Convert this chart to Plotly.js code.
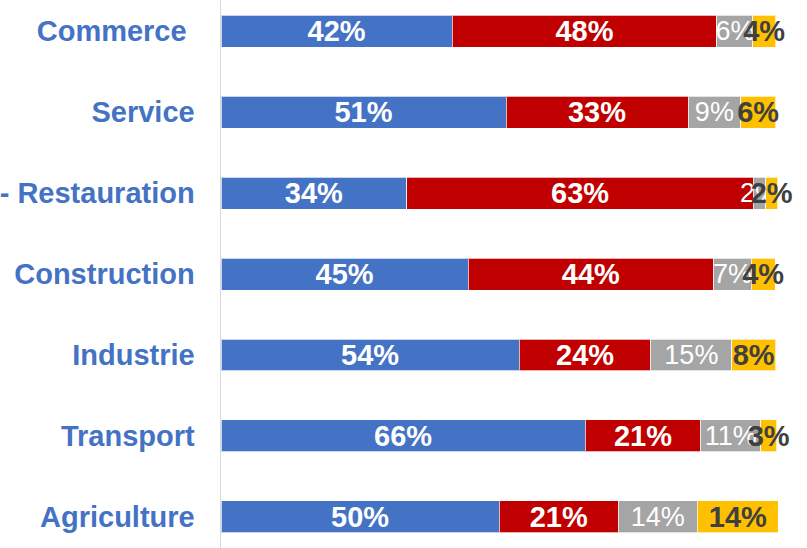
<!DOCTYPE html>
<html>
<head>
<meta charset="utf-8">
<script src="https://cdn.plot.ly/plotly-3.0.1.min.js"></script>
<style>html,body{margin:0;padding:0;background:#fff;}#chart{width:807px;height:548px;}</style>
</head>
<body>
<div id="chart"></div>
<script>
// Categories from bottom to top
const categories = ["Agriculture", "Transport", "Industrie", "Construction", "- Restauration", "Service", "Commerce\u00A0"];
// Segment values (% share)
const seriesA = [50.2, 65.7, 53.8, 44.6, 33.5, 51.4, 41.7];
const seriesB = [21.4, 20.8, 23.7, 44.2, 62.5, 32.8, 47.7];
const seriesC = [14.3, 10.8, 14.6, 6.8, 2.2, 9.5, 6.5];
const seriesD = [14.6, 2.9, 7.9, 4.3, 2.2, 6.3, 4.1];
// Printed labels
const labelsA = ["50%", "66%", "54%", "45%", "34%", "51%", "42%"];
const labelsB = ["21%", "21%", "24%", "44%", "63%", "33%", "48%"];
const labelsC = ["14%", "11%", "15%", "7%", "2%", "9%", "6%"];
const labelsD = ["14%", "3%", "8%", "4%", "2%", "6%", "4%"];

const colors = ["#4472C4", "#C00000", "#A5A5A5", "#FFC000"];
const textColors = ["#FFFFFF", "#FFFFFF", "#FFFFFF", "#404040"];
const fam = "Liberation Sans, Arial, sans-serif";

function mk(vals, labels, i, bold) {
  return {
    type: "bar",
    orientation: "h",
    y: categories,
    x: vals,
    text: labels.map(t => bold ? "<b>" + t + "</b>" : t),
    texttemplate: "%{text}",
    textposition: "inside",
    insidetextanchor: "middle",
    textangle: 0,
    constraintext: "none",
    cliponaxis: false,
    textfont: {family: fam, size: bold ? 29 : 27, color: textColors[i]},
    marker: {color: colors[i], line: {color: "rgba(255,255,255,0.7)", width: 1}},
    hoverinfo: "skip",
    showlegend: false
  };
}

const data = [
  mk(seriesA, labelsA, 0, true),
  mk(seriesB, labelsB, 1, true),
  mk(seriesC, labelsC, 2, false),
  mk(seriesD, labelsD, 3, true)
];

const layout = {
  width: 807,
  height: 548,
  margin: {l: 221, r: 28, t: 0, b: 0, pad: 0},
  paper_bgcolor: "#FFFFFF",
  plot_bgcolor: "#FFFFFF",
  barmode: "stack",
  bargap: 0.605,
  showlegend: false,
  xaxis: {range: [0, 100.6], showgrid: false, zeroline: false, showticklabels: false, showline: false, fixedrange: true},
  yaxis: {
    type: "category",
    range: [-0.383, 6.383],
    showgrid: false,
    zeroline: false,
    showline: true,
    linecolor: "#D9D9D9",
    linewidth: 1.5,
    ticks: "",
    ticklabelstandoff: 19,
    tickfont: {family: fam, size: 29, color: "#4472C4", weight: "bold"},
    fixedrange: true
  }
};

Plotly.newPlot("chart", data, layout, {staticPlot: true, displayModeBar: false});
</script>
</body>
</html>
